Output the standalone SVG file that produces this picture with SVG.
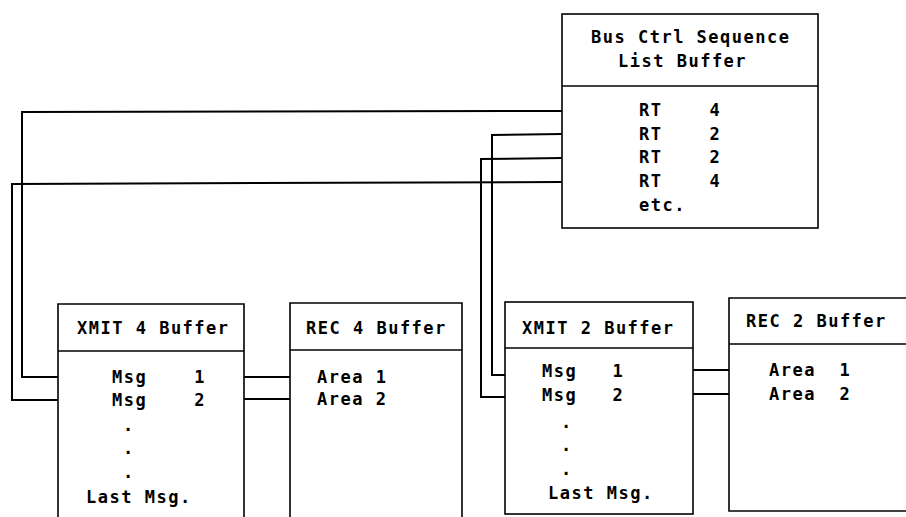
<svg xmlns="http://www.w3.org/2000/svg" width="906" height="517" viewBox="0 0 906 517">
<style>
  .box { fill: none; stroke: #000; stroke-width: 1.6; }
  .conn { fill: none; stroke: #000; stroke-width: 2; }
  text { font-family: "DejaVu Sans Mono", "Liberation Mono", monospace; font-size: 17px; font-weight: bold; letter-spacing: 1.5px; fill: #000; white-space: pre; }
</style>
<rect width="906" height="517" fill="#fff"/>

<g id="connectors">
  <polyline class="conn" points="562,111 22,112 22,377 58,377"/>
  <polyline class="conn" points="562,182 12,184 12,400 58,400"/>
  <polyline class="conn" points="562,134 492,135 492,375 505,375"/>
  <polyline class="conn" points="562,158 481,159 481,397 505,397"/>
  <line class="conn" x1="244" y1="377" x2="290" y2="377"/>
  <line class="conn" x1="244" y1="399" x2="290" y2="399"/>
  <line class="conn" x1="693" y1="370" x2="729" y2="370"/>
  <line class="conn" x1="693" y1="394" x2="729" y2="394"/>
</g>

<g id="bus-ctrl">
  <rect class="box" x="562" y="14" width="256" height="214"/>
  <line class="box" x1="562" y1="86" x2="818" y2="86"/>
  <text x="591" y="43">Bus Ctrl Sequence</text>
  <text x="618" y="67">List Buffer</text>
  <text x="639" y="116" xml:space="preserve">RT    4</text>
  <text x="639" y="140" xml:space="preserve">RT    2</text>
  <text x="639" y="163" xml:space="preserve">RT    2</text>
  <text x="639" y="187" xml:space="preserve">RT    4</text>
  <text x="639" y="211">etc.</text>
</g>

<g id="xmit4">
  <path class="box" d="M58,518 V304 H244 V518"/>
  <line class="box" x1="58" y1="351" x2="244" y2="351"/>
  <text x="77" y="334">XMIT 4 Buffer</text>
  <text x="112" y="383" xml:space="preserve">Msg    1</text>
  <text x="112" y="406" xml:space="preserve">Msg    2</text>
  <text x="123" y="431">.</text>
  <text x="123" y="454">.</text>
  <text x="123" y="478">.</text>
  <text x="86" y="503">Last Msg.</text>
</g>

<g id="rec4">
  <path class="box" d="M290,518 V303 H462 V518"/>
  <line class="box" x1="290" y1="350" x2="462" y2="350"/>
  <text x="306" y="334">REC 4 Buffer</text>
  <text x="317" y="383">Area 1</text>
  <text x="317" y="405">Area 2</text>
</g>

<g id="xmit2">
  <rect class="box" x="505" y="302" width="188" height="212"/>
  <line class="box" x1="505" y1="348" x2="693" y2="348"/>
  <text x="522" y="334">XMIT 2 Buffer</text>
  <text x="542" y="377" xml:space="preserve">Msg   1</text>
  <text x="542" y="401" xml:space="preserve">Msg   2</text>
  <text x="561" y="428">.</text>
  <text x="561" y="451">.</text>
  <text x="561" y="475">.</text>
  <text x="548" y="499">Last Msg.</text>
</g>

<g id="rec2">
  <path class="box" d="M910,298 H729 V511 H910"/>
  <line class="box" x1="729" y1="344" x2="910" y2="344"/>
  <text x="746" y="327">REC 2 Buffer</text>
  <text x="769" y="376" xml:space="preserve">Area  1</text>
  <text x="769" y="400" xml:space="preserve">Area  2</text>
</g>
</svg>
